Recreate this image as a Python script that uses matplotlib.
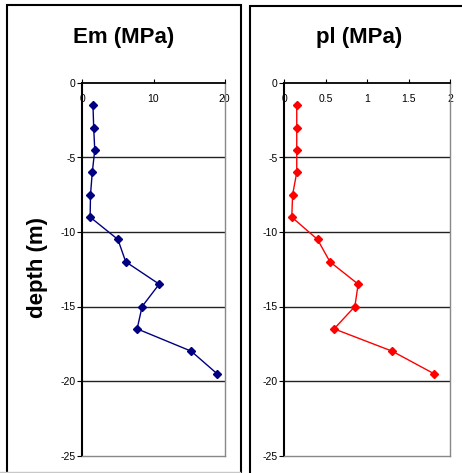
import matplotlib
matplotlib.use("Agg")
import matplotlib.pyplot as plt
from matplotlib.patches import Rectangle
from matplotlib.lines import Line2D

depth = [-1.5, -3, -4.5, -6, -7.5, -9, -10.5, -12, -13.5, -15, -16.5, -18, -19.5]
em = [1.5, 1.6, 1.75, 1.4, 1.15, 1.1, 5.0, 6.1, 10.8, 8.4, 7.7, 15.3, 18.9]
pl = [0.15, 0.15, 0.15, 0.15, 0.10, 0.09, 0.40, 0.55, 0.89, 0.85, 0.60, 1.30, 1.80]

em_ticks = [0, 10, 20]
em_labels = ["0", "10", "20"]
pl_ticks = [0, 0.5, 1, 1.5, 2]
pl_labels = ["0", "0.5", "1", "1.5", "2"]
y_ticks = [0, -5, -10, -15, -20, -25]
y_labels = ["0", "-5", "-10", "-15", "-20", "-25"]

W, H = 462, 473
fig = plt.figure(figsize=(W / 100, H / 100), dpi=100)
plt.rcParams['font.family'] = ['Liberation Sans', 'DejaVu Sans']

def fx(px):
    return px / W

def fy(py):
    return 1 - py / H

# panel borders
fig.patches.append(Rectangle((fx(7), fy(490)), fx(240.5 - 7), fy(5.5) - fy(490),
                             transform=fig.transFigure, fill=False, ec='black', lw=1.5))
fig.patches.append(Rectangle((fx(250), fy(490)), fx(480 - 250), fy(6) - fy(490),
                             transform=fig.transFigure, fill=False, ec='black', lw=1.5))
fig.lines.append(Line2D([fx(0), fx(240)], [fy(472), fy(472)], transform=fig.transFigure,
                        color='#c8c8c8', lw=1))

def make_ax(x0px, x1px, xvals, color, xt, xl, xmax, title, title_x):
    ax = fig.add_axes([fx(x0px), fy(455.5), fx(x1px - x0px), fy(83) - fy(455.5)])
    ax.plot(xvals, depth, color=color, lw=1, marker='D', markersize=4.5,
            markerfacecolor=color, markeredgecolor=color, zorder=3)
    ax.set_xlim(0, xmax)
    ax.set_ylim(-25, 0)
    ax.set_xticks(xt)
    ax.set_xticklabels(xl)
    ax.set_yticks(y_ticks)
    ax.set_yticklabels(y_labels)
    ax.tick_params(axis='x', top=True, bottom=False, labeltop=True, labelbottom=False,
                   direction='out', length=3, width=0.8, pad=-18, labelsize=7.5)
    ax.tick_params(axis='y', left=True, direction='out', length=3.5, width=0.8, pad=1.5,
                   labelsize=7.5)
    for yv in [-5, -10, -15, -20]:
        ax.axhline(yv, color='#222222', lw=1, zorder=1)
    ax.spines['top'].set_color('black')
    ax.spines['top'].set_linewidth(1.3)
    ax.spines['left'].set_color('black')
    ax.spines['left'].set_linewidth(1.5)
    ax.spines['right'].set_color('#888888')
    ax.spines['right'].set_linewidth(1)
    ax.spines['bottom'].set_color('#888888')
    ax.spines['bottom'].set_linewidth(1)
    fig.text(fx(title_x), fy(37), title, ha='center', va='center',
             fontsize=16, fontweight='bold')
    return ax

make_ax(82.3, 224.7, em, '#000080', em_ticks, em_labels, 20, 'Em (MPa)', 124)
make_ax(284.3, 450.3, pl, '#ff0000', pl_ticks, pl_labels, 2, 'pl (MPa)', 359)

fig.text(fx(38), fy(268), 'depth (m)', rotation=90, ha='center', va='center',
         fontsize=16, fontweight='bold')

fig.savefig('out.png', dpi=100)
